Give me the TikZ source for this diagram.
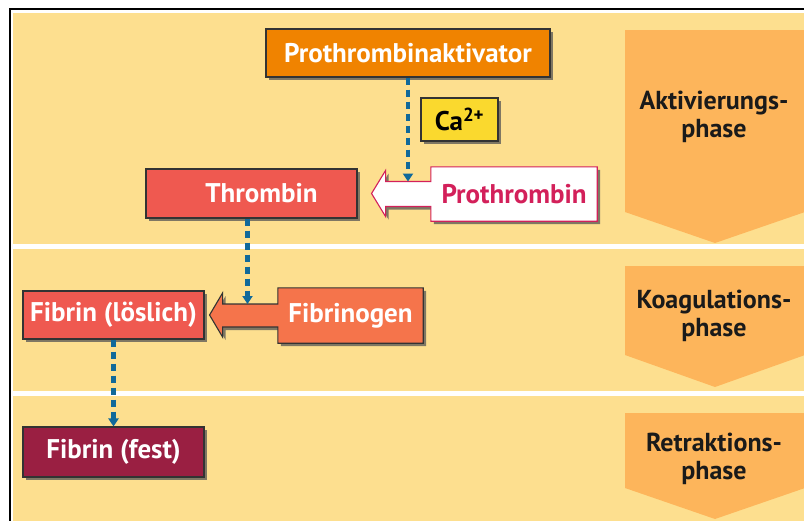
\documentclass[tikz,border=0pt]{standalone}
\usepackage{fontspec}
\setmainfont{PT Sans}
\usetikzlibrary{arrows.meta,calc,shadows}
\pgfdeclarelayer{back}
\pgfdeclarelayer{mid}
\pgfsetlayers{back,mid,main}
\definecolor{bgy}{HTML}{FDDF8F}
\definecolor{phasec}{HTML}{FDB55B}
\definecolor{orangec}{HTML}{F08300}
\definecolor{cayel}{HTML}{FAD92E}
\definecolor{redc}{HTML}{EF5950}
\definecolor{fgenc}{HTML}{F5744B}
\definecolor{festc}{HTML}{9A1F42}
\definecolor{crims}{HTML}{D3205A}
\definecolor{dotblue}{HTML}{11699A}
\definecolor{boxline}{HTML}{333333}
\definecolor{shadowc}{HTML}{555555}
\definecolor{phtext}{HTML}{1A1A1A}
\begin{document}
\begin{tikzpicture}[x=1pt,y=-1pt,
  boxfont/.style={font=\fontsize{27}{31}\selectfont\bfseries},
  box/.style={boxfont, draw=boxline, line width=1.1pt, inner sep=0pt, text=white,
    drop shadow={shadow xshift=3pt, shadow yshift=-3pt, fill=shadowc, opacity=0.75}},
  plain/.style={boxfont, inner sep=0pt},
  dots/.style={draw=dotblue, line width=4.5pt, dash pattern=on 7pt off 5pt,
    -{Triangle[width=10pt,length=8pt]}},
  arrowshape/.style={line width=1.1pt, line join=miter,
    preaction={fill=shadowc, opacity=0.75, transform canvas={shift={(3pt,-3pt)}}}},
  phase/.style={fill=phasec, draw=none},
  phasetext/.style={font=\fontsize{26}{28}\selectfont\bfseries, text=phtext, align=center, inner sep=0pt}
]
\useasboundingbox (0,0) rectangle (804,520);
\clip (0,0) rectangle (804,520);
\begin{pgfonlayer}{back}
  \fill[white] (0,0) rectangle (804,520);
  \fill[bgy] (13,13) rectangle (810,530);
  \fill[white] (13,244) rectangle (810,249);
  \fill[white] (13,391) rectangle (810,396);
  \draw[black, line width=2pt] (10,530) -- (10,9) -- (810,9);
  % phase arrows
  \fill[phase] (625,30) -- (805,30) -- (805,212) -- (715,243) -- (625,212) -- cycle;
  \fill[phase] (625,266) -- (805,266) -- (805,355) -- (715,387) -- (625,355) -- cycle;
  \fill[phase] (625,413) -- (805,413) -- (805,488) -- (715,519) -- (625,488) -- cycle;
\end{pgfonlayer}

\node[phasetext] (ph1) at (714,117) {Aktivierungs-\\phase};
\node[phasetext] (ph2) at (714,316) {Koagulations-\\phase};
\node[phasetext] (ph3) at (714,459) {Retraktions-\\phase};

\node[box, fill=orangec, minimum width=284pt, minimum height=48pt] (pa) at (408,53) {Prothrombinaktivator};
\node[box, fill=cayel, text=black, minimum width=77pt, minimum height=43pt] (ca) at (459.5,119.5) {Ca\textsuperscript{2+}};
\node[box, fill=redc, minimum width=211pt, minimum height=49pt] (thr) at (251.5,193.5) {\hspace*{20pt}Thrombin};
\node[plain, text=crims, minimum width=166pt, minimum height=54pt] (pro) at (514,194) {Prothrombin};
\node[box, fill=redc, minimum width=181pt, minimum height=48pt] (fl) at (113.5,315) {Fibrin (löslich)};
\node[plain, text=white, minimum width=145pt, minimum height=55pt] (fgen) at (350.5,315.5) {Fibrinogen};
\node[box, fill=festc, minimum width=181pt, minimum height=50pt] (ff) at (113.5,452) {Fibrin (fest)};

% composite arrow shapes
\coordinate (t1) at ($(thr.east)+(14,0)$);
\coordinate (h1) at ($(t1)+(14,0)$);
\coordinate (st1) at ($(pro.west)+(0,-12.5)$);
\coordinate (sb1) at ($(pro.west)+(0,12.5)$);
\coordinate (t2) at ($(fl.east)+(5,0)$);
\coordinate (h2) at ($(t2)+(13,0)$);
\coordinate (st2) at ($(fgen.west)+(0,-11.5)$);
\coordinate (sb2) at ($(fgen.west)+(0,11.5)$);
\coordinate (ts) at ($(thr.south)+(-4,0)$);
\begin{pgfonlayer}{mid}
  \path[arrowshape, fill=white, draw=crims]
    (pro.north west) -- (pro.north east) -- (pro.south east) -- (pro.south west)
    -- (sb1) -- (h1 |- sb1) -- ($(h1)+(0,23)$) -- (t1) -- ($(h1)+(0,-23)$)
    -- (h1 |- st1) -- (st1) -- cycle;
  \path[arrowshape, fill=fgenc, draw=boxline]
    (fgen.north west) -- (fgen.north east) -- (fgen.south east) -- (fgen.south west)
    -- (sb2) -- (h2 |- sb2) -- ($(h2)+(0,22)$) -- (t2) -- ($(h2)+(0,-22)$)
    -- (h2 |- st2) -- (st2) -- cycle;
\end{pgfonlayer}

\draw[dots] (pa.south) -- (pa.south |- st1);
\draw[dots] (ts) -- (ts |- st2);
\draw[dots] (fl.south) -- (ff.north);
\end{tikzpicture}
\end{document}
